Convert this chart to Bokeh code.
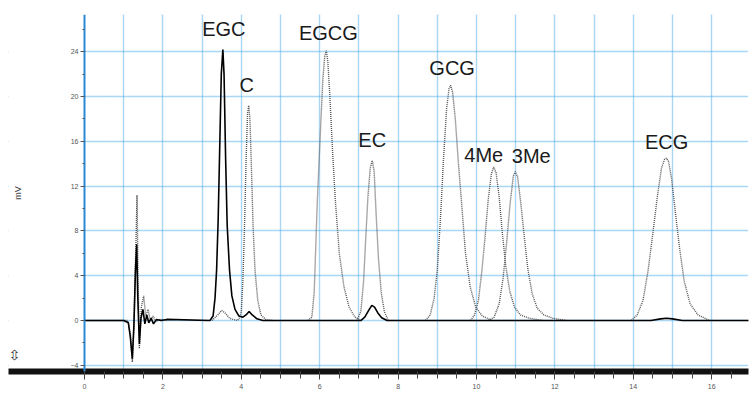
from bokeh.plotting import figure
from bokeh.models import Range1d, FixedTicker, BoxAnnotation, Label
from bokeh.embed import file_html
from bokeh.resources import INLINE

# ---------------- data ----------------
# Sample trace (solid black): retention time [min] / signal [mV]
sample_t = [0.0, 1.00, 1.12, 1.17, 1.22, 1.26, 1.30, 1.33, 1.36, 1.40,
            1.44, 1.49, 1.54, 1.59, 1.64, 1.70, 1.76, 1.84, 1.95, 2.10,
            3.20, 3.28, 3.33, 3.37, 3.41, 3.45, 3.49, 3.53, 3.56, 3.60,
            3.64, 3.70, 3.76, 3.84, 3.94, 4.04, 4.12, 4.20, 4.28, 4.40,
            4.55, 7.05, 7.15, 7.25, 7.33, 7.40, 7.48, 7.58, 7.72, 14.45,
            14.70, 14.85, 15.00, 15.25, 17.0]
sample_mv = [0.0, 0.0, -0.2, -1.5, -3.4, -0.5, 4.5, 6.8, 2.0, -2.1,
             0.2, 1.0, -0.3, 0.5, -0.2, 0.2, -0.3, 0.1, 0.0, 0.1,
             0.0, 0.4, 2.0, 4.5, 9.0, 15.5, 22.0, 24.2, 22.0, 14.5,
             8.5, 4.5, 2.2, 1.0, 0.4, 0.3, 0.5, 0.8, 0.5, 0.15,
             0.0, 0.0, 0.3, 0.9, 1.35, 1.2, 0.7, 0.25, 0.0, 0.0,
             0.15, 0.2, 0.15, 0.0, 0.0]

# Standard traces (grey dotted)
inj_t = [0.0, 1.10, 1.17, 1.22, 1.26, 1.30, 1.34, 1.37, 1.40, 1.45,
         1.51, 1.56, 1.62, 1.68, 1.75, 1.82, 1.92, 2.10]
inj_mv = [0.0, 0.0, -1.2, -3.7, -0.5, 5.0, 11.2, 3.0, -2.5, 1.2,
          2.2, 0.4, 1.0, 0.0, 0.4, -0.1, 0.1, 0.0]

c_t = [3.25, 3.40, 3.50, 3.58, 3.70, 3.90, 3.95, 4.00, 4.04, 4.08,
       4.12, 4.16, 4.19, 4.22, 4.26, 4.30, 4.35, 4.42, 4.50, 4.62, 4.80]
c_mv = [0.0, 0.5, 0.9, 0.7, 0.2, 0.0, 0.2, 0.8, 3.5, 8.0,
        14.0, 18.5, 19.2, 18.0, 13.5, 8.5, 4.5, 1.8, 0.5, 0.1, 0.0]

egcg_t = [5.70, 5.80, 5.86, 5.94, 6.02, 6.08, 6.13, 6.17, 6.21, 6.26,
          6.33, 6.40, 6.50, 6.62, 6.75, 6.90, 7.05]
egcg_mv = [0.0, 0.3, 2.5, 10.7, 17.0, 21.5, 23.6, 24.1, 23.0, 20.0,
           15.0, 10.7, 6.0, 3.0, 1.2, 0.3, 0.0]

ec_t = [6.95, 7.05, 7.12, 7.17, 7.23, 7.29, 7.34, 7.39, 7.44, 7.50,
        7.57, 7.65, 7.75]
ec_mv = [0.0, 0.8, 3.5, 7.0, 11.0, 13.6, 14.3, 13.3, 9.5, 5.5,
         2.5, 0.8, 0.0]

gcg_t = [8.70, 8.82, 8.92, 9.00, 9.08, 9.16, 9.24, 9.30, 9.34, 9.39,
         9.46, 9.54, 9.62, 9.72, 9.84, 9.98, 10.15, 10.40]
gcg_mv = [0.0, 0.5, 2.0, 4.5, 9.0, 14.5, 19.0, 20.7, 21.0, 20.4,
          18.0, 14.0, 10.5, 6.0, 3.0, 1.2, 0.4, 0.0]

me4_t = [9.85, 9.95, 10.05, 10.14, 10.22, 10.30, 10.38, 10.44, 10.50, 10.58,
         10.66, 10.75, 10.85, 10.97, 11.12, 11.35, 11.70]
me4_mv = [0.0, 0.5, 1.8, 4.5, 7.5, 10.8, 13.1, 13.7, 13.2, 11.0,
          7.8, 4.8, 2.6, 1.2, 0.5, 0.2, 0.0]

me3_t = [10.30, 10.45, 10.58, 10.68, 10.77, 10.86, 10.94, 10.99, 11.05, 11.13,
         11.22, 11.31, 11.42, 11.55, 11.72, 11.95, 12.30]
me3_mv = [0.0, 0.3, 1.5, 3.8, 7.0, 10.5, 12.9, 13.3, 12.8, 10.5,
          7.5, 4.6, 2.4, 1.1, 0.5, 0.2, 0.0]

ecg_t = [13.95, 14.10, 14.25, 14.38, 14.50, 14.62, 14.72, 14.80, 14.85, 14.90,
         14.98, 15.08, 15.18, 15.30, 15.45, 15.65, 15.95]
ecg_mv = [0.0, 0.5, 1.8, 4.5, 7.8, 11.2, 13.6, 14.4, 14.5, 14.2,
          12.6, 9.5, 6.5, 3.5, 1.5, 0.5, 0.0]

peak_names = ["EGC", "C", "EGCG", "EC", "GCG", "4Me", "3Me", "ECG"]

y_ticks = [-4, 0, 4, 8, 12, 16, 20, 24]
y_minor = list(range(-4, 28, 2))
x_ticks = [0, 2, 4, 6, 8, 10, 12, 14, 16]
x_minor = [i * 0.5 for i in range(0, 34)]
x_grid = list(range(1, 17))

# ---------------- figure ----------------
p = figure(width=750, height=395, output_backend="svg", toolbar_location=None,
           x_range=Range1d(-1.939, 16.94), y_range=Range1d(-4.55, 27.32),
           min_border_left=8, min_border_right=2, min_border_top=14,
           min_border_bottom=24)
p.outline_line_color = None
p.background_fill_color = "white"
p.border_fill_color = "white"

grid_col = "#55aeea"
p.xgrid.ticker = FixedTicker(ticks=x_grid)
p.ygrid.ticker = FixedTicker(ticks=y_ticks)
for g in (p.xgrid[0], p.ygrid[0]):
    g.grid_line_color = grid_col
    g.grid_line_dash = "1 1"
    g.grid_line_width = 1.4

# hide the horizontal grid to the left of the signal axis
p.add_layout(BoxAnnotation(right=0, fill_color="white", fill_alpha=1,
                           line_color=None, level="underlay"))

ya = p.yaxis[0]
ya.fixed_location = 0
ya.ticker = FixedTicker(ticks=y_ticks, minor_ticks=y_minor)
ya.axis_line_color = "#2a8ad6"
ya.axis_line_width = 2
ya.major_tick_out = 4
ya.major_tick_in = 0
ya.minor_tick_out = 2
ya.minor_tick_in = 0
ya.major_tick_line_color = "#555555"
ya.minor_tick_line_color = "#555555"
ya.major_label_text_font_size = "7px"
ya.major_label_text_color = "#555555"
ya.major_label_standoff = 2
ya.axis_label = "mV"
ya.axis_label_text_font_size = "9px"
ya.axis_label_text_font_style = "normal"
ya.axis_label_text_color = "#444444"
ya.axis_label_standoff = 45

xa = p.xaxis[0]
xa.ticker = FixedTicker(ticks=x_ticks, minor_ticks=x_minor)
xa.axis_line_color = "#111111"
xa.axis_line_width = 6
xa.major_tick_out = 8
xa.major_tick_in = 0
xa.minor_tick_out = 7
xa.minor_tick_in = 0
xa.major_tick_line_color = "#444444"
xa.minor_tick_line_color = "#444444"
xa.major_label_text_font_size = "7px"
xa.major_label_text_color = "#555555"
xa.major_label_standoff = 4

# grey dotted standards
grey = "#555555"
standards = [(inj_t, inj_mv), (c_t, c_mv), (egcg_t, egcg_mv), (ec_t, ec_mv),
             (gcg_t, gcg_mv), (me4_t, me4_mv), (me3_t, me3_mv), (ecg_t, ecg_mv)]
for t, v in standards:
    p.line(t, v, line_color=grey, line_width=1.4, line_dash="1 1")

# black sample trace
p.line(sample_t, sample_mv, line_color="black", line_width=1.6)

# peak labels: anchored on the apex of the trace that carries each peak
def apex(t, v, lo, hi):
    best = max((vv, tt) for tt, vv in zip(t, v) if lo <= tt <= hi)
    return best[1], best[0]

apexes = [apex(sample_t, sample_mv, 3, 4), apex(c_t, c_mv, 4, 4.5),
          apex(egcg_t, egcg_mv, 5, 7), apex(ec_t, ec_mv, 7, 8),
          apex(gcg_t, gcg_mv, 9, 10), apex(me4_t, me4_mv, 10, 11),
          apex(me3_t, me3_mv, 10.5, 11.5), apex(ecg_t, ecg_mv, 14, 16)]
offsets = [(1, 20), (-2, 20), (2, 18), (0, 20), (1.5, 17), (-10, 12), (16, 16), (0, 16)]
for name, (t, v), (dx, dy) in zip(peak_names, apexes, offsets):
    p.add_layout(Label(x=t, y=v, text=name, x_offset=dx, y_offset=dy,
                       text_align="center", text_baseline="alphabetic",
                       text_font="Liberation Sans", text_font_size="20px",
                       text_color="#1a1a1a"))

# up/down arrow mark at the lower left (instrument UI mark)
p.add_layout(Label(x=-1.79, y=-3.05, text="⇳", text_align="center",
                   text_baseline="middle", text_font="DejaVu Sans",
                   text_font_size="14px", text_color="#333333"))

open("out.html", "w").write(file_html(p, INLINE))
